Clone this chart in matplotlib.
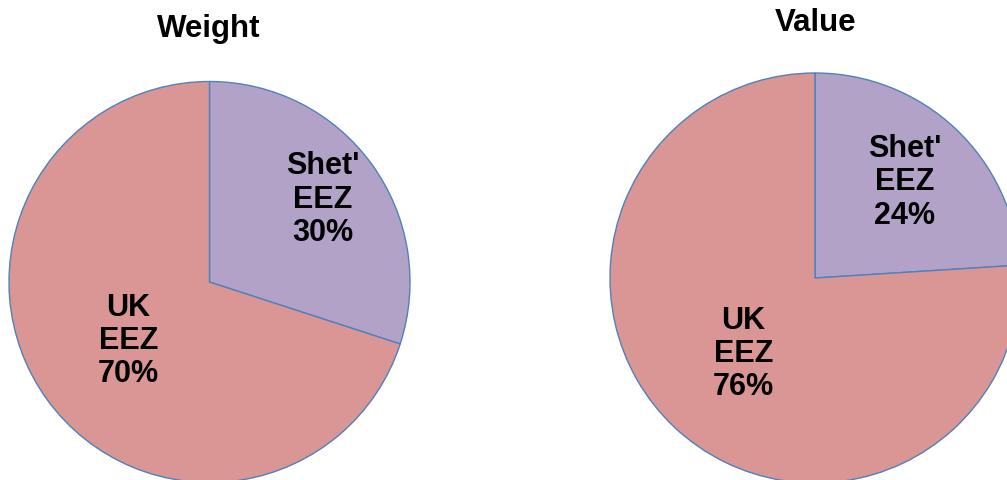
import numpy as np
import matplotlib.pyplot as plt

# data
categories = ["Shet'\nEEZ", "UK\nEEZ"]
weight_share = [30, 70]
value_share = [24, 76]
titles = ["Weight", "Value"]

colors = ['#B3A2C7', '#D99694']
edge = '#4F81BD'

W, H = 1007, 480
fig = plt.figure(figsize=(W / 100, H / 100), dpi=100)
ax = fig.add_axes([0, 0, 1, 1])

# pie centres / radii in pixel space (y up)
pies = [
    dict(vals=weight_share, center=(209.5, H - 282), radius=200.5,
         title_xy=(209, H - 37), dist=[0.70, 0.50]),
    dict(vals=value_share, center=(815, H - 278), radius=205,
         title_xy=(816, H - 31), dist=[0.64, 0.51]),
]

for p, title in zip(pies, titles):
    wedges, _ = ax.pie(p['vals'], colors=colors, startangle=90, counterclock=False,
                       center=p['center'], radius=p['radius'],
                       wedgeprops=dict(edgecolor=edge, linewidth=1.0))
    cx, cy = p['center']
    for w, lab, v, d in zip(wedges, categories, p['vals'], p['dist']):
        th = np.deg2rad((w.theta1 + w.theta2) / 2)
        ax.text(cx + d * p['radius'] * np.cos(th), cy + d * p['radius'] * np.sin(th),
                f"{lab}\n{v}%", ha='center', va='center', fontsize=22,
                fontweight='bold', family='Liberation Sans', linespacing=1.14)
    ax.text(*p['title_xy'], title, ha='center', va='baseline', fontsize=22.5,
            fontweight='bold', family='Liberation Sans')

ax.set_xlim(0, W)
ax.set_ylim(0, H)
ax.set_aspect('equal')
ax.axis('off')

fig.savefig('out.png', dpi=100)
